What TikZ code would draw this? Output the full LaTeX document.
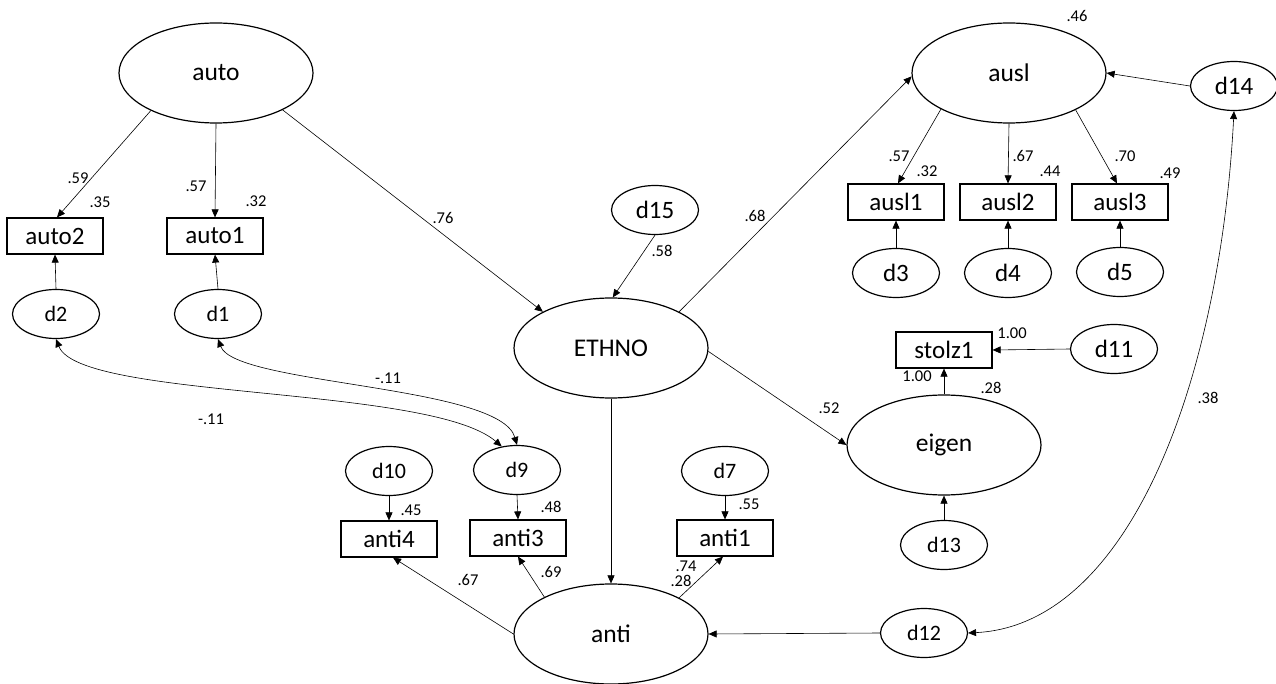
\documentclass[tikz,border=0pt]{standalone}
\usepackage{fontspec}
\setmainfont{Carlito}
\usetikzlibrary{shapes.geometric,arrows.meta}
\begin{document}
\begin{tikzpicture}[x=1pt,y=-1pt,
 lat/.style={ellipse,draw,line width=1.2pt,minimum width=194pt,minimum height=100pt,inner sep=0pt,font=\fontsize{25.5}{28}\selectfont},
 errb/.style={ellipse,draw,line width=1.2pt,minimum width=87pt,minimum height=49pt,inner sep=0pt,font=\fontsize{25}{28}\selectfont},
 errs/.style={errb,font=\fontsize{22}{24}\selectfont},
 obs/.style={rectangle,draw,line width=1.2pt,minimum width=96pt,minimum height=36pt,inner sep=0pt,font=\fontsize{25}{28}\selectfont},
 arr/.style={-{Triangle[length=8pt,width=7pt]},line width=0.6pt},
 cov/.style={{Triangle[length=8pt,width=7pt]}-{Triangle[length=8pt,width=7pt]},line width=0.6pt},
 lbl/.style={font=\fontsize{16.5}{18}\selectfont,inner sep=0pt}]
\useasboundingbox[fill=white] (0,0) rectangle (1276,684);

% latent variables
\node[lat] (auto) at (216,73) {auto};
\node[lat] (ETHNO) at (611,348) {ETHNO};
\node[lat] (ausl) at (1009,73) {ausl};
\node[lat] (eigen) at (944,445) {eigen};
\node[lat] (anti) at (611,634) {anti};

% observed
\node[obs] (auto2) at (55,236) {auto2};
\node[obs] (auto1) at (215,236) {auto1};
\node[obs] (ausl1) at (896,202) {ausl1};
\node[obs] (ausl2) at (1008,202) {ausl2};
\node[obs] (ausl3) at (1120,202) {ausl3};
\node[obs] (stolz1) at (944,350) {stolz1};
\node[obs] (anti4) at (389,539) {anti4};
\node[obs] (anti3) at (518,538) {anti3};
\node[obs] (anti1) at (725,538) {anti1};

% errors
\node[errs] (d2) at (56,314) {d2};
\node[errs] (d1) at (218,314) {d1};
\node[errb] (d15) at (655,210) {d15};
\node[errb] (d14) at (1234,86) {d14};
\node[errb] (d3) at (896,273) {d3};
\node[errb] (d4) at (1008,273) {d4};
\node[errb] (d5) at (1120,272) {d5};
\node[errb] (d11) at (1114,349) {d11};
\node[errs] (d13) at (944,545) {d13};
\node[errs] (d12) at (924,633) {d12};
\node[errs] (d10) at (389,471) {d10};
\node[errs] (d9) at (517,470) {d9};
\node[errs] (d7) at (725,471) {d7};

% regression paths
\draw[arr] (auto.210) -- ([xshift=2pt]auto2.north);
\draw[arr] (auto.south) -- (auto1.north);
\draw[arr] (auto.331) -- (ETHNO.152);
\draw[arr] (d15.south) -- (ETHNO.88);
\draw[arr] (ETHNO.28) -- (ausl.182);
\draw[arr] (ETHNO.-2) -- (eigen.west);
\draw[arr] (ETHNO.south) -- (anti.north);
\draw[arr] (ausl.208) -- ([xshift=2pt]ausl1.north);
\draw[arr] (ausl.south) -- (ausl2.north);
\draw[arr] (ausl.331) -- ([xshift=-3pt]ausl3.north);
\draw[arr] (d14.west) -- (ausl.east);
\draw[arr] (d3.north) -- (ausl1.south);
\draw[arr] (d4.north) -- (ausl2.south);
\draw[arr] (d5.north) -- (ausl3.south);
\draw[arr] (d11.west) -- (stolz1.east);
\draw[arr] (eigen.north) -- (stolz1.south);
\draw[arr] (d13.north) -- (eigen.south);
\draw[arr] (d12.west) -- (anti.east);
\draw[arr] (anti.west) -- ([xshift=4pt]anti4.south);
\draw[arr] (anti.151) -- (anti3.south);
\draw[arr] (anti.28) -- ([xshift=-2pt]anti1.south);
\draw[arr] (d10.south) -- (anti4.north);
\draw[arr] (d9.south) -- (anti3.north);
\draw[arr] (d7.south) -- (anti1.north);
\draw[arr] (d2.north) -- (auto2.south);
\draw[arr] (d1.north) -- (auto1.south);

% covariances
\draw[cov] (d2.south) .. controls (80,400) and (430,385) .. (d9.123);
\draw[cov] (d1.south) .. controls (235,385) and (500,385) .. (d9.north);
\draw[cov] (d14.south) .. controls (1220,380) and (1130,625) .. (d12.east);

% labels
\node[lbl] (l1) at (78,178) {.59};
\node[lbl] (l2) at (100,202) {.35};
\node[lbl] (l3) at (196,186) {.57};
\node[lbl] (l4) at (256,201) {.32};
\node[lbl] (l5) at (443,218) {.76};
\node[lbl] (l6) at (662,251) {.58};
\node[lbl] (l7) at (755,216) {.68};
\node[lbl] (l8) at (1077,16) {.46};
\node[lbl] (l9) at (899,156) {.57};
\node[lbl] (l10) at (927,171) {.32};
\node[lbl] (l11) at (1023,156) {.67};
\node[lbl] (l12) at (1050,171) {.44};
\node[lbl] (l13) at (1125,156) {.70};
\node[lbl] (l14) at (1170,173) {.49};
\node[lbl] (l15) at (1012,333) {1.00};
\node[lbl] (l16) at (917,376) {1.00};
\node[lbl] (l17) at (991,388) {.28};
\node[lbl] (l18) at (1208,398) {.38};
\node[lbl] (l19) at (829,408) {.52};
\node[lbl] (l20) at (388,378) {-.11};
\node[lbl] (l21) at (211,419) {-.11};
\node[lbl] (l22) at (411,510) {.45};
\node[lbl] (l23) at (551,507) {.48};
\node[lbl] (l24) at (749,504) {.55};
\node[lbl] (l25) at (468,580) {.67};
\node[lbl] (l26) at (551,572) {.69};
\node[lbl] (l27) at (686,566) {.74};
\node[lbl] (l28) at (681,581) {.28};
\end{tikzpicture}
\end{document}
